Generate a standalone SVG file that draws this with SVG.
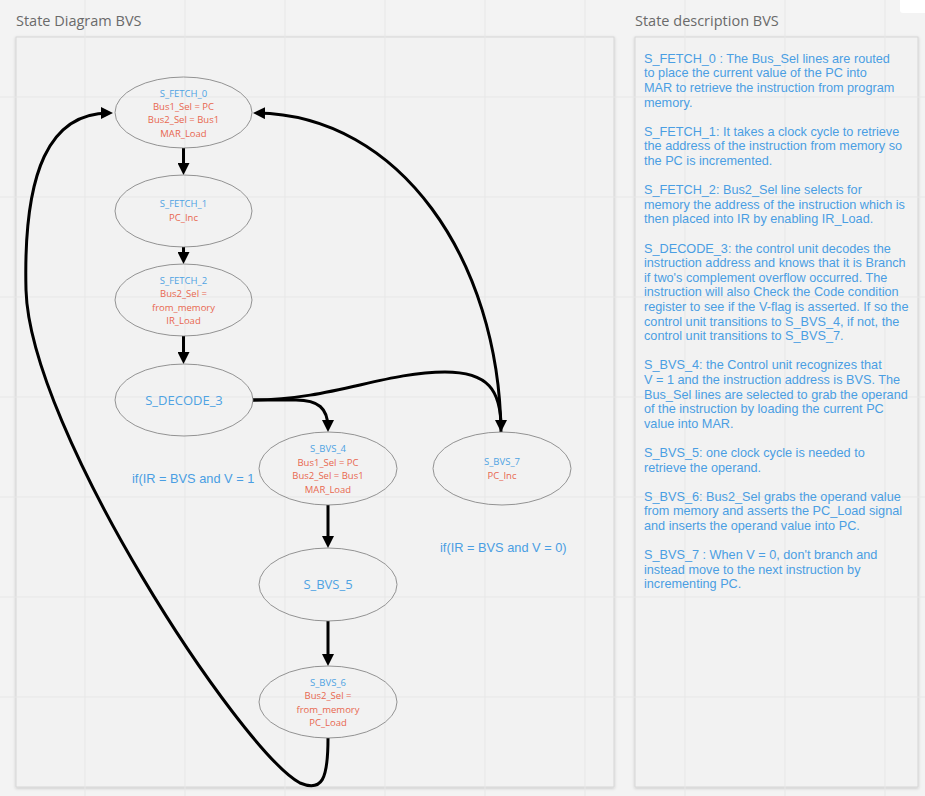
<svg xmlns="http://www.w3.org/2000/svg" width="925" height="796" viewBox="0 0 925 796">
  <style>
    .title { font-family: "Open Sans", "Noto Sans", sans-serif; font-size: 14.5px; fill: #6a6a6a; }
    .panel { fill: #f2f2f2; stroke: #d6d6d6; stroke-width: 1; filter: url(#shadow); }
    .grid line { stroke: #e7e7e7; stroke-width: 1; }
    .state { fill: none; stroke: #7a7a7a; stroke-width: 0.8; }
    .name { font-family: "Open Sans", "Noto Sans", sans-serif; font-size: 9.5px; fill: #4fa3e3; text-anchor: middle; }
    .big { font-size: 13px; }
    .act { font-family: "Open Sans", "Noto Sans", sans-serif; font-size: 9.5px; fill: #e8674f; text-anchor: middle; }
    .cond { font-family: "Liberation Sans", Arial, sans-serif; font-size: 12.8px; fill: #4a9ee3; }
    .desc { font-family: "Liberation Sans", Arial, sans-serif; font-size: 12.7px; fill: #4a9ee3; }
    .edge { fill: none; stroke: #000; stroke-width: 3; marker-end: url(#arrow); }
  </style>
  <defs>
    <filter id="shadow" x="-5%" y="-5%" width="110%" height="110%">
      <feDropShadow dx="0" dy="1" stdDeviation="1.5" flood-color="#000" flood-opacity="0.18"/>
    </filter>
    <marker id="arrow" markerUnits="userSpaceOnUse" markerWidth="12" markerHeight="12" refX="8" refY="6" orient="auto">
      <path d="M0,0 L12,6 L0,12 z" fill="#000"/>
    </marker>
  </defs>

  <!-- board background -->
  <rect x="0" y="0" width="925" height="796" fill="#f3f3f3"/>
  <rect x="900" y="-6" width="32" height="19" rx="3" fill="#ffffff"/>

  <!-- frames -->
  <rect class="panel" x="16" y="37" width="598" height="750"/>
  <rect class="panel" x="635" y="37" width="283" height="750"/>

  <!-- board grid -->
  <g class="grid">
    <line x1="85" y1="0" x2="85" y2="796"/>
    <line x1="185" y1="0" x2="185" y2="796"/>
    <line x1="285" y1="0" x2="285" y2="796"/>
    <line x1="385" y1="0" x2="385" y2="796"/>
    <line x1="485" y1="0" x2="485" y2="796"/>
    <line x1="585" y1="0" x2="585" y2="796"/>
    <line x1="685" y1="0" x2="685" y2="796"/>
    <line x1="785" y1="0" x2="785" y2="796"/>
    <line x1="885" y1="0" x2="885" y2="796"/>
    <line x1="0" y1="97" x2="925" y2="97"/>
    <line x1="0" y1="197" x2="925" y2="197"/>
    <line x1="0" y1="297" x2="925" y2="297"/>
    <line x1="0" y1="397" x2="925" y2="397"/>
    <line x1="0" y1="497" x2="925" y2="497"/>
    <line x1="0" y1="597" x2="925" y2="597"/>
    <line x1="0" y1="697" x2="925" y2="697"/>
  </g>

  <text class="title" x="16" y="26">State Diagram BVS</text>
  <text class="title" x="635" y="26">State description BVS</text>

  <!-- connectors -->
  <g id="connectors">
    <path class="edge" d="M183.5,148 L183.5,171"/>
    <path class="edge" d="M183.5,247 L183.5,260"/>
    <path class="edge" d="M183.5,336 L183.5,360"/>
    <path class="edge" d="M253,400 L296,400 C318,400 328,408 328,428"/>
    <path class="edge" d="M253,400 C330,400 385,372 445,372 C488,372 501,390 501,428"/>
    <path class="edge" d="M501,432 C499,260 400,115 257,113"/>
    <path class="edge" d="M328,505 L328,544"/>
    <path class="edge" d="M328,621 L328,662"/>
    <path class="edge" d="M328,738 C328,780 322,792 300,783 C240,750 30,430 26,290 C23,170 50,113 109,113"/>
  </g>

  <!-- states -->
  <g id="S_FETCH_0">
    <ellipse class="state" cx="183.5" cy="112.5" rx="68.5" ry="35.5"/>
    <text class="name" x="183.5" y="96.5">S_FETCH_0</text>
    <text class="act" x="183.5" y="110">Bus1_Sel = PC</text>
    <text class="act" x="183.5" y="123.3">Bus2_Sel = Bus1</text>
    <text class="act" x="183.5" y="136.7">MAR_Load</text>
  </g>
  <g id="S_FETCH_1">
    <ellipse class="state" cx="183.5" cy="211" rx="68.5" ry="36"/>
    <text class="name" x="183.5" y="207.3">S_FETCH_1</text>
    <text class="act" x="183.5" y="220.7">PC_Inc</text>
  </g>
  <g id="S_FETCH_2">
    <ellipse class="state" cx="183.5" cy="300" rx="68.5" ry="36"/>
    <text class="name" x="183.5" y="284">S_FETCH_2</text>
    <text class="act" x="183.5" y="297.4">Bus2_Sel =</text>
    <text class="act" x="183.5" y="310.8">from_memory</text>
    <text class="act" x="183.5" y="324.2">IR_Load</text>
  </g>
  <g id="S_DECODE_3">
    <ellipse class="state" cx="184" cy="400" rx="69" ry="36"/>
    <text class="name big" x="184" y="404.5">S_DECODE_3</text>
  </g>
  <g id="S_BVS_4">
    <ellipse class="state" cx="328" cy="468.5" rx="69" ry="36.5"/>
    <text class="name" x="328" y="452.3">S_BVS_4</text>
    <text class="act" x="328" y="465.7">Bus1_Sel = PC</text>
    <text class="act" x="328" y="479">Bus2_Sel = Bus1</text>
    <text class="act" x="328" y="492.5">MAR_Load</text>
  </g>
  <g id="S_BVS_7">
    <ellipse class="state" cx="502" cy="468.5" rx="69" ry="36.5"/>
    <text class="name" x="502" y="465">S_BVS_7</text>
    <text class="act" x="502" y="478.5">PC_Inc</text>
  </g>
  <g id="S_BVS_5">
    <ellipse class="state" cx="328" cy="584.5" rx="69" ry="36.5"/>
    <text class="name big" x="328" y="589">S_BVS_5</text>
  </g>
  <g id="S_BVS_6">
    <ellipse class="state" cx="328" cy="702" rx="69" ry="36"/>
    <text class="name" x="328" y="685.7">S_BVS_6</text>
    <text class="act" x="328" y="699">Bus2_Sel =</text>
    <text class="act" x="328" y="712.5">from_memory</text>
    <text class="act" x="328" y="726">PC_Load</text>
  </g>

  <!-- transition conditions -->
  <text class="cond" x="132" y="483">if(IR = BVS and V = 1</text>
  <text class="cond" x="440" y="552">if(IR = BVS and V = 0)</text>

  <!-- state descriptions -->
  <text class="desc" x="644" y="62.7">
    <tspan x="644">S_FETCH_0 : The Bus_Sel lines are routed</tspan>
    <tspan x="644" dy="14.6">to place the current value of the PC into</tspan>
    <tspan x="644" dy="14.6">MAR to retrieve the instruction from program</tspan>
    <tspan x="644" dy="14.6">memory.</tspan>
    <tspan x="644" dy="29.2">S_FETCH_1: It takes a clock cycle to retrieve</tspan>
    <tspan x="644" dy="14.6">the address of the instruction from memory so</tspan>
    <tspan x="644" dy="14.6">the PC is incremented.</tspan>
    <tspan x="644" dy="29.2">S_FETCH_2: Bus2_Sel line selects for</tspan>
    <tspan x="644" dy="14.6">memory the address of the instruction which is</tspan>
    <tspan x="644" dy="14.6">then placed into IR by enabling IR_Load.</tspan>
    <tspan x="644" dy="29.2">S_DECODE_3: the control unit decodes the</tspan>
    <tspan x="644" dy="14.6">instruction address and knows that it is Branch</tspan>
    <tspan x="644" dy="14.6">if two's complement overflow occurred. The</tspan>
    <tspan x="644" dy="14.6">instruction will also Check the Code condition</tspan>
    <tspan x="644" dy="14.6">register to see if the V-flag is asserted. If so the</tspan>
    <tspan x="644" dy="14.6">control unit transitions to S_BVS_4, if not, the</tspan>
    <tspan x="644" dy="14.6">control unit transitions to S_BVS_7.</tspan>
    <tspan x="644" dy="29.2">S_BVS_4: the Control unit recognizes that</tspan>
    <tspan x="644" dy="14.6">V = 1 and the instruction address is BVS. The</tspan>
    <tspan x="644" dy="14.6">Bus_Sel lines are selected to grab the operand</tspan>
    <tspan x="644" dy="14.6">of the instruction by loading the current PC</tspan>
    <tspan x="644" dy="14.6">value into MAR.</tspan>
    <tspan x="644" dy="29.2">S_BVS_5: one clock cycle is needed to</tspan>
    <tspan x="644" dy="14.6">retrieve the operand.</tspan>
    <tspan x="644" dy="29.2">S_BVS_6: Bus2_Sel grabs the operand value</tspan>
    <tspan x="644" dy="14.6">from memory and asserts the PC_Load signal</tspan>
    <tspan x="644" dy="14.6">and inserts the operand value into PC.</tspan>
    <tspan x="644" dy="29.2">S_BVS_7 : When V = 0, don't branch and</tspan>
    <tspan x="644" dy="14.6">instead move to the next instruction by</tspan>
    <tspan x="644" dy="14.6">incrementing PC.</tspan>
  </text>
</svg>
